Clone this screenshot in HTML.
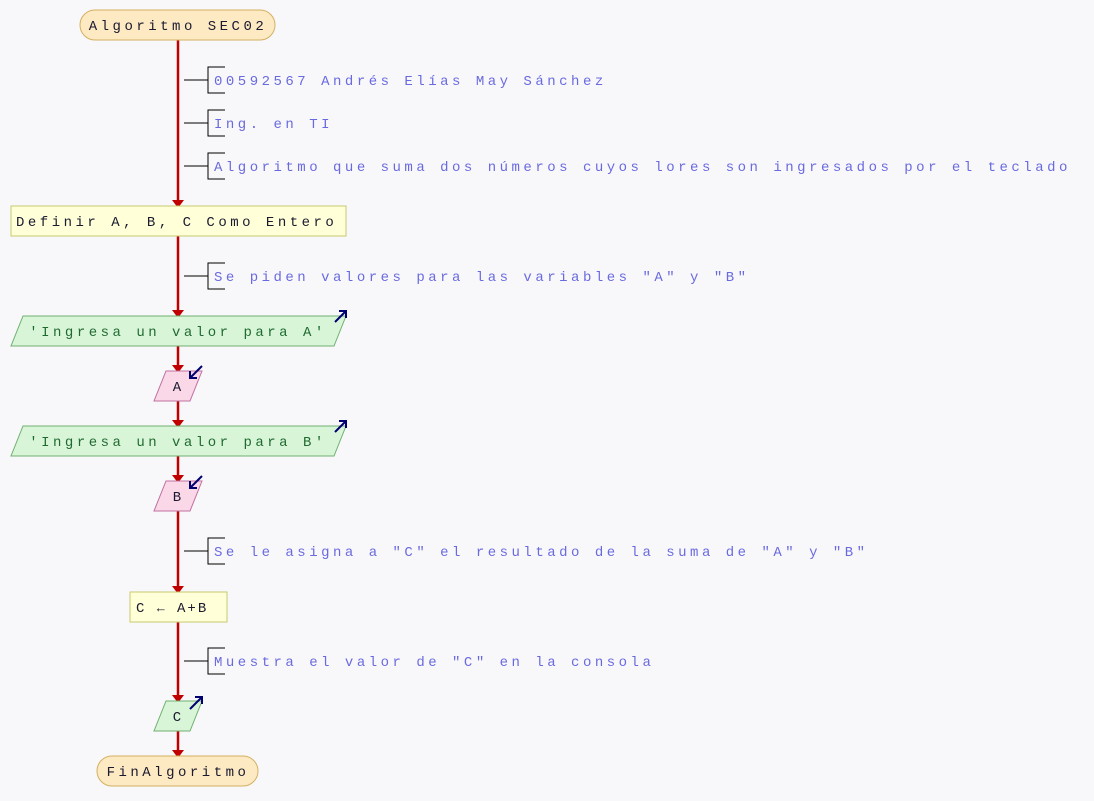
<!DOCTYPE html>
<html><head><meta charset="utf-8"><style>
html,body{margin:0;padding:0;background:#f8f8fa;}
svg{display:block;}
text{font-size:14px;letter-spacing:3.5px;}
.c{fill:#6a6ae0;}
.k{fill:#1a1a30;}
.g{fill:#206a30;}
</style></head><body>
<svg width="1094" height="801" viewBox="0 0 1094 801" xmlns="http://www.w3.org/2000/svg" font-family="Liberation Mono, DejaVu Sans Mono, monospace">
<g stroke="#c00000" stroke-width="2.5" fill="none">
<line x1="178" y1="40" x2="178" y2="200"/>
<line x1="178" y1="236" x2="178" y2="310"/>
<line x1="178" y1="346" x2="178" y2="365"/>
<line x1="178" y1="401" x2="178" y2="420"/>
<line x1="178" y1="456" x2="178" y2="475"/>
<line x1="178" y1="511" x2="178" y2="586"/>
<line x1="178" y1="622" x2="178" y2="695"/>
<line x1="178" y1="731" x2="178" y2="750"/>
</g>
<g fill="#c00000">
<polygon points="172,200 184,200 178,208"/>
<polygon points="172,310 184,310 178,318"/>
<polygon points="172,365 184,365 178,373"/>
<polygon points="172,420 184,420 178,428"/>
<polygon points="172,475 184,475 178,483"/>
<polygon points="172,586 184,586 178,594"/>
<polygon points="172,695 184,695 178,703"/>
<polygon points="172,750 184,750 178,758"/>
</g>
<rect x="80" y="10" width="195" height="30" rx="15" fill="#fde9c2" stroke="#d4b060"/>
<text x="178" y="30" text-anchor="middle" class="k">Algoritmo SEC02</text>
<g stroke="#000" stroke-width="1" fill="none">
<path d="M184 80H208M225 67H208V93H225"/>
<path d="M184 123H208M225 110H208V136H225"/>
<path d="M184 166H208M225 153H208V179H225"/>
<path d="M184 276H208M225 263H208V289H225"/>
<path d="M184 551H208M225 538H208V564H225"/>
<path d="M184 661H208M225 648H208V674H225"/>
</g>
<text x="214" y="85" class="c">00592567 Andrés Elías May Sánchez</text>
<text x="214" y="128" class="c">Ing. en TI</text>
<text x="214" y="171" class="c">Algoritmo que suma dos números cuyos lores son ingresados por el teclado</text>
<text x="214" y="281" class="c">Se piden valores para las variables "A" y "B"</text>
<text x="214" y="556" class="c">Se le asigna a "C" el resultado de la suma de "A" y "B"</text>
<text x="214" y="666" class="c">Muestra el valor de "C" en la consola</text>
<rect x="11" y="206" width="335" height="30" fill="#ffffd8" stroke="#c8c870"/>
<text x="16" y="226" class="k">Definir A, B, C Como Entero</text>
<polygon points="23,316 346,316 334,346 11,346" fill="#d8f5d8" stroke="#70b070"/>
<text x="178" y="336" text-anchor="middle" class="g">'Ingresa un valor para A'</text>
<polygon points="23,426 346,426 334,456 11,456" fill="#d8f5d8" stroke="#70b070"/>
<text x="178" y="446" text-anchor="middle" class="g">'Ingresa un valor para B'</text>
<polygon points="166,371 202,371 190,401 154,401" fill="#fad8e8" stroke="#c070a0"/>
<text x="177" y="391" text-anchor="middle" class="k" style="letter-spacing:0">A</text>
<polygon points="166,481 202,481 190,511 154,511" fill="#fad8e8" stroke="#c070a0"/>
<text x="177" y="501" text-anchor="middle" class="k" style="letter-spacing:0">B</text>
<rect x="130" y="592" width="97" height="30" fill="#ffffd8" stroke="#c8c870"/>
<text x="136" y="612" class="k" style="letter-spacing:2px">C <tspan font-size="13">←</tspan> A+B</text>
<polygon points="166,701 202,701 190,731 154,731" fill="#d8f5d8" stroke="#70b070"/>
<text x="177" y="721" text-anchor="middle" class="k" style="letter-spacing:0">C</text>
<g stroke="#000070" stroke-width="2" fill="none">
<path d="M335 322L346 311M339 311H346V318"/>
<path d="M335 432L346 421M339 421H346V428"/>
<path d="M202 366L190 378M190 371V378H197"/>
<path d="M202 476L190 488M190 481V488H197"/>
<path d="M190 709L202 697M195 697H202V704"/>
</g>
<rect x="97" y="756" width="161" height="30" rx="15" fill="#fde9c2" stroke="#d4b060"/>
<text x="178" y="776" text-anchor="middle" class="k">FinAlgoritmo</text>
</svg>
</body></html>
